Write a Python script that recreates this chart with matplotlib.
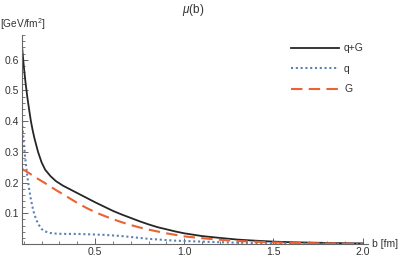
import matplotlib
matplotlib.use("Agg")
import matplotlib.pyplot as plt
from matplotlib.ticker import MultipleLocator, FixedLocator

plt.rcParams["font.family"] = ["Liberation Sans", "DejaVu Sans"]
plt.rcParams["mathtext.fontset"] = "custom"
plt.rcParams["mathtext.it"] = "Liberation Sans:italic"
plt.rcParams["mathtext.rm"] = "Liberation Sans"

b = [0.09, 0.10, 0.11, 0.12, 0.13, 0.14, 0.15, 0.16, 0.18, 0.20, 0.22, 0.25, 0.28,
     0.32, 0.36, 0.40, 0.45, 0.50, 0.55, 0.60, 0.65, 0.70, 0.75, 0.80, 0.85, 0.90,
     0.95, 1.00, 1.10, 1.20, 1.30, 1.40, 1.50, 1.60, 1.70, 1.80, 1.90, 2.00]

mu_total = [0.645, 0.58, 0.525, 0.478, 0.438, 0.40, 0.37, 0.344, 0.30, 0.266, 0.242,
            0.221, 0.205, 0.190, 0.178, 0.166, 0.151, 0.136, 0.122, 0.108, 0.096,
            0.085, 0.074, 0.064, 0.055, 0.048, 0.041, 0.035, 0.026, 0.020, 0.0145,
            0.011, 0.008, 0.006, 0.0048, 0.0037, 0.0028, 0.0022]

mu_q = [0.40, 0.33, 0.27, 0.22, 0.18, 0.145, 0.118, 0.095, 0.066, 0.049, 0.041, 0.036,
        0.034, 0.033, 0.033, 0.033, 0.032, 0.031, 0.030, 0.028, 0.026, 0.023, 0.020,
        0.017, 0.015, 0.013, 0.011, 0.010, 0.008, 0.006, 0.0045, 0.0035, 0.0028,
        0.0022, 0.0018, 0.0015, 0.0012, 0.001]

mu_G = [0.245, 0.241, 0.238, 0.234, 0.231, 0.227, 0.223, 0.220, 0.212, 0.205, 0.198,
        0.187, 0.176, 0.162, 0.148, 0.134, 0.118, 0.104, 0.092, 0.081, 0.071, 0.062,
        0.054, 0.047, 0.041, 0.035, 0.030, 0.025, 0.019, 0.014, 0.010, 0.0075,
        0.0055, 0.004, 0.003, 0.0022, 0.0016, 0.0012]

labels = ["q+G", "q", "G"]
x_major = [0.5, 1.0, 1.5, 2.0]
y_major = [0.1, 0.2, 0.3, 0.4, 0.5, 0.6]

fig = plt.figure(figsize=(4.07, 2.58), dpi=100)
ax = fig.add_axes([0.054, 0.054, 0.85, 0.81])

l1, = ax.plot(b, mu_total, color="#262626", lw=1.3, label=labels[0])
l2, = ax.plot(b, mu_q, color="#5E81B5", lw=1.5, dashes=(1.0, 1.3), label=labels[1])
l3, = ax.plot(b, mu_G, color="#EB6235", lw=1.5, dashes=(5.5, 3.0), label=labels[2])

ax.set_xlim(0.09, 2.03)
ax.set_ylim(0, 0.68)

for s in ["top", "right"]:
    ax.spines[s].set_visible(False)
for s in ["left", "bottom"]:
    ax.spines[s].set_color("#666666")
    ax.spines[s].set_linewidth(0.8)

ax.xaxis.set_major_locator(FixedLocator(x_major))
ax.xaxis.set_minor_locator(MultipleLocator(0.1))
ax.yaxis.set_major_locator(FixedLocator(y_major))
ax.yaxis.set_minor_locator(MultipleLocator(0.02))
ax.tick_params(which="both", direction="in", color="#666666", labelsize=7.5,
               labelcolor="#333333", pad=2)
ax.tick_params(which="major", length=4, width=0.7)
ax.tick_params(which="minor", length=2, width=0.6)

fig.text(0.475, 0.962, r"$\mu$(b)", ha="center", va="center", fontsize=8.5, color="#333333")
fig.text(0.0, 0.907, r"[GeV/fm$^2$]", ha="left", va="center", fontsize=7.3, color="#333333")
fig.text(0.915, 0.054, "b [fm]", ha="left", va="center", fontsize=7.5, color="#333333")

fig.legend(handles=[l1, l2, l3], loc="upper left", bbox_to_anchor=(0.697, 0.86),
           frameon=False, fontsize=7.5, handlelength=4.6, handletextpad=0.5,
           labelspacing=1.0, borderpad=0.2, labelcolor="#333333")

fig.savefig("out.png", dpi=100)
